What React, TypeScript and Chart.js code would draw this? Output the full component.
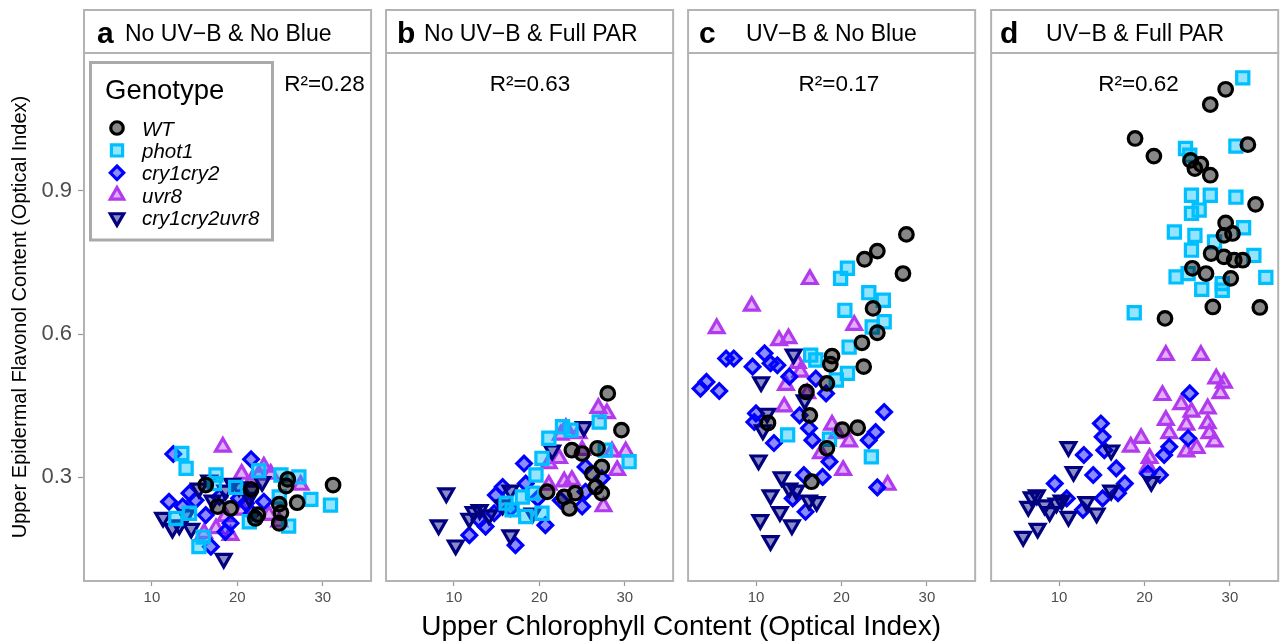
import React, { useEffect, useRef } from 'react';
import { Chart, registerables, PointElement } from 'chart.js';

Chart.register(...registerables);

const FONT = '"Liberation Sans", Arial, Helvetica, sans-serif';

// ---------- data ----------
const genotypes = ['WT', 'phot1', 'cry1cry2', 'uvr8', 'cry1cry2uvr8'];
const panelLetters = ['a', 'b', 'c', 'd'];
const panelTitles = ['No UV−B & No Blue', 'No UV−B & Full PAR', 'UV−B & No Blue', 'UV−B & Full PAR'];
const rSquared = ['0.28', '0.63', '0.17', '0.62'];
const rSquaredX = [30.2, 18.9, 19.7, 19.3];
const rSquaredY = 1.11;
const xTicks = [10, 20, 30];
const yTicks = [0.3, 0.6, 0.9];
const xTitle = 'Upper Chlorophyll Content (Optical Index)';
const yTitle = 'Upper Epidermal Flavonol Content (Optical Index)';

const a_WT = [[31.2,0.284],[25.9,0.296],[25.7,0.282],[27.0,0.247],[24.9,0.244],[25.1,0.226],[22.1,0.214],[21.6,0.275],[17.7,0.239],[19.2,0.235],[16.3,0.284],[24.9,0.204],[22.4,0.222]];
const a_phot1 = [[13.5,0.350],[14.0,0.319],[17.5,0.305],[22.5,0.314],[25.1,0.305],[27.2,0.301],[28.6,0.254],[30.9,0.242],[26.0,0.198],[15.5,0.155],[12.8,0.214],[19.8,0.279],[21.4,0.207],[24.9,0.259],[14.4,0.225],[17.3,0.287],[16.0,0.175]];
const a_cry1cry2 = [[12.5,0.349],[21.6,0.338],[12.0,0.249],[14.4,0.267],[16.9,0.155],[18.6,0.186],[16.3,0.221],[21.7,0.225],[23.1,0.249],[13.6,0.239],[20.2,0.256],[15.1,0.252],[19.2,0.204],[17.9,0.259],[21.0,0.246]];
const a_uvr8 = [[18.3,0.364],[20.5,0.307],[23.1,0.322],[23.9,0.307],[27.4,0.284],[24.9,0.207],[19.2,0.179],[16.1,0.183],[22.5,0.305],[18.6,0.218],[17.5,0.193],[23.7,0.221],[21.7,0.294],[20.6,0.232]];
const a_cry1cry2uvr8 = [[11.3,0.216],[12.4,0.193],[14.6,0.193],[15.5,0.277],[18.4,0.130],[18.6,0.273],[19.4,0.287],[22.9,0.291],[21.4,0.258],[14.0,0.221],[13.2,0.200],[17.1,0.252],[20.2,0.280],[16.7,0.294],[21.7,0.273]];

const b_WT = [[28.0,0.476],[29.6,0.399],[26.8,0.361],[27.3,0.322],[27.3,0.267],[23.5,0.235],[23.8,0.357],[25.0,0.350],[20.9,0.270],[24.2,0.267],[26.2,0.308],[22.9,0.259],[26.6,0.280]];
const b_phot1 = [[27.0,0.416],[21.1,0.382],[20.3,0.340],[30.5,0.333],[19.6,0.305],[18.0,0.259],[18.4,0.218],[20.3,0.225],[16.1,0.246],[22.7,0.406],[27.7,0.357],[19.2,0.267],[16.8,0.232],[23.7,0.399]];
const b_cry1cry2 = [[18.2,0.329],[20.7,0.200],[25.4,0.322],[27.3,0.298],[25.4,0.270],[25.0,0.239],[22.5,0.252],[18.4,0.287],[15.7,0.280],[14.9,0.263],[16.6,0.235],[14.7,0.225],[13.0,0.211],[11.8,0.179],[17.2,0.158],[19.8,0.256],[13.7,0.197]];
const b_uvr8 = [[26.9,0.445],[27.9,0.434],[23.1,0.403],[22.5,0.389],[28.5,0.354],[30.1,0.354],[29.1,0.315],[27.5,0.239],[21.1,0.329],[22.3,0.340],[22.9,0.291],[21.1,0.284],[25.0,0.357],[23.8,0.294],[24.6,0.392]];
const b_cry1cry2uvr8 = [[9.1,0.267],[8.2,0.200],[10.2,0.158],[25.2,0.406],[21.5,0.357],[13.0,0.232],[11.8,0.214],[16.6,0.179],[16.6,0.273],[14.1,0.221],[15.7,0.242],[19.2,0.225],[12.3,0.228]];

const c_WT = [[27.6,0.809],[24.2,0.774],[22.7,0.757],[27.2,0.727],[23.7,0.654],[24.2,0.603],[22.4,0.582],[22.6,0.532],[18.9,0.554],[18.7,0.537],[18.3,0.497],[15.9,0.479],[16.3,0.430],[11.4,0.414],[20.1,0.400],[21.9,0.404],[18.3,0.361],[16.5,0.291]];
const c_phot1 = [[20.7,0.738],[19.9,0.717],[23.2,0.687],[24.9,0.671],[20.4,0.650],[25.0,0.626],[23.6,0.615],[20.9,0.573],[20.7,0.518],[19.4,0.504],[16.4,0.556],[17.0,0.546],[13.7,0.389],[23.5,0.343],[18.6,0.380]];
const c_cry1cry2 = [[3.5,0.486],[4.2,0.500],[5.7,0.481],[6.5,0.549],[7.4,0.549],[9.6,0.532],[11.0,0.560],[11.7,0.539],[12.5,0.535],[13.9,0.511],[17.0,0.507],[18.2,0.476],[10.0,0.434],[9.8,0.416],[12.1,0.372],[15.1,0.430],[16.2,0.403],[16.6,0.378],[25.0,0.437],[24.0,0.395],[23.2,0.378],[18.6,0.333],[15.6,0.305],[17.8,0.301],[24.2,0.279],[14.3,0.256],[15.8,0.228]];
const c_uvr8 = [[16.3,0.715],[9.5,0.659],[5.4,0.612],[12.7,0.587],[13.8,0.591],[21.5,0.619],[15.2,0.521],[13.5,0.493],[13.3,0.448],[18.9,0.410],[20.9,0.375],[17.6,0.350],[20.2,0.315],[25.4,0.284],[19.5,0.392],[16.0,0.476],[14.9,0.539]];
const c_cry1cry2uvr8 = [[14.4,0.558],[10.6,0.500],[15.7,0.462],[11.3,0.434],[10.8,0.399],[10.3,0.336],[13.0,0.301],[14.7,0.273],[11.7,0.263],[12.8,0.228],[10.5,0.211],[17.1,0.249],[16.2,0.252],[14.2,0.200],[11.7,0.167],[13.9,0.277]];

const d_WT = [[29.5,1.113],[27.7,1.081],[18.9,1.010],[21.1,0.973],[32.1,0.997],[25.4,0.964],[26.6,0.956],[25.9,0.947],[27.7,0.933],[33.0,0.872],[29.5,0.833],[29.3,0.807],[30.3,0.811],[27.8,0.769],[29.3,0.762],[30.5,0.755],[31.5,0.755],[25.6,0.738],[27.2,0.727],[30.1,0.717],[28.0,0.657],[33.5,0.656],[22.4,0.633]];
const d_phot1 = [[31.5,1.137],[30.7,0.994],[24.8,0.989],[25.3,0.975],[25.5,0.891],[27.7,0.891],[30.7,0.887],[25.5,0.853],[26.4,0.860],[23.5,0.814],[25.9,0.807],[31.6,0.823],[28.2,0.793],[25.5,0.776],[32.8,0.765],[23.7,0.720],[25.1,0.727],[34.2,0.719],[26.7,0.694],[29.1,0.706],[29.1,0.692],[18.8,0.645]];
const d_cry1cry2 = [[25.3,0.476],[25.1,0.382],[14.9,0.413],[15.1,0.385],[15.3,0.357],[12.9,0.347],[22.3,0.347],[14.0,0.305],[16.7,0.319],[9.5,0.287],[17.7,0.287],[16.9,0.267],[15.1,0.256],[10.9,0.256],[20.4,0.308],[21.8,0.305],[22.9,0.364],[12.8,0.232]];
const d_uvr8 = [[22.5,0.556],[26.6,0.556],[28.4,0.507],[29.3,0.498],[28.9,0.476],[22.1,0.472],[24.3,0.453],[25.5,0.437],[27.4,0.444],[22.5,0.420],[24.9,0.410],[27.4,0.413],[22.9,0.392],[27.6,0.392],[19.6,0.382],[18.4,0.364],[28.2,0.375],[26.1,0.361],[24.9,0.354],[20.6,0.340],[20.4,0.322]];
const d_cry1cry2uvr8 = [[11.1,0.364],[11.7,0.312],[16.1,0.357],[7.4,0.263],[6.4,0.239],[8.3,0.242],[9.7,0.246],[7.5,0.193],[5.8,0.176],[11.1,0.218],[13.2,0.249],[14.4,0.225],[16.1,0.273],[20.8,0.291],[10.3,0.252],[6.8,0.259],[8.9,0.228]];

const panelData = [
  [a_WT, a_phot1, a_cry1cry2, a_uvr8, a_cry1cry2uvr8],
  [b_WT, b_phot1, b_cry1cry2, b_uvr8, b_cry1cry2uvr8],
  [c_WT, c_phot1, c_cry1cry2, c_uvr8, c_cry1cry2uvr8],
  [d_WT, d_phot1, d_cry1cry2, d_uvr8, d_cry1cry2uvr8],
];

// ---------- styles ----------
const genoStyle: Record<string, any> = {
  WT: { pointStyle: 'circle', rotation: 0, radius: 6.8, border: '#000000', fill: 'rgba(0,0,0,0.47)' },
  phot1: { pointStyle: 'rect', rotation: 0, radius: 8.6, border: '#00BFFF', fill: 'rgba(0,191,255,0.42)' },
  cry1cry2: { pointStyle: 'rectRot', rotation: 0, radius: 7.3, border: '#0000FF', fill: 'rgba(0,0,255,0.45)' },
  uvr8: { pointStyle: 'triangle', rotation: 0, radius: 8.4, border: '#B23AEE', fill: 'rgba(178,58,238,0.4)' },
  cry1cry2uvr8: { pointStyle: 'triangle', rotation: 180, radius: 8.4, border: '#000080', fill: 'rgba(0,0,128,0.45)' },
};
const BORDER_W = 3.2;
const drawOrder = [0, 1, 4, 2, 3];
const panelIds = ['xa', 'xb', 'xc', 'xd'];
const letterOffset = [13, 11, 11, 9];
const titleOffset = [41, 38, 58, 55];
const FRAME = '#b3b3b3';

const panelPlugin = {
  id: 'facetDecor',
  afterDraw(chart: any) {
    const ctx = chart.ctx;
    const { top, bottom } = chart.chartArea;
    const yS = chart.scales.y;
    ctx.save();
    panelIds.forEach((id, i) => {
      const s = chart.scales[id];
      const L = s.left, R = s.right;
      ctx.strokeStyle = FRAME;
      ctx.lineWidth = 2;
      ctx.strokeRect(L, 10, R - L, top - 10);
      ctx.strokeRect(L, top, R - L, bottom - top);
      ctx.fillStyle = '#000';
      ctx.textAlign = 'left';
      ctx.textBaseline = 'alphabetic';
      ctx.font = `bold 30px ${FONT}`;
      ctx.fillText(panelLetters[i], L + letterOffset[i], 43);
      ctx.font = `23px ${FONT}`;
      ctx.fillText(panelTitles[i], L + titleOffset[i], 40.5);
      ctx.textAlign = 'center';
      ctx.font = `22.5px ${FONT}`;
      ctx.fillText('R²=' + rSquared[i], s.getPixelForValue(rSquaredX[i]), yS.getPixelForValue(rSquaredY));
    });
    // legend (inside panel a)
    ctx.strokeStyle = '#aaaaaa';
    ctx.lineWidth = 3;
    ctx.strokeRect(90.5, 62.5, 182, 177.5);
    ctx.fillStyle = '#000';
    ctx.textAlign = 'left';
    ctx.font = `27.5px ${FONT}`;
    ctx.fillText('Genotype', 105, 99);
    genotypes.forEach((g, k) => {
      const st = genoStyle[g];
      const cy = 128 + k * 22.4;
      const pe: any = new PointElement({} as any);
      pe.x = 117;
      pe.y = cy;
      pe.options = {
        pointStyle: st.pointStyle, rotation: st.rotation, radius: st.radius * 0.92,
        borderWidth: BORDER_W, borderColor: st.border, backgroundColor: st.fill,
      };
      pe.draw(ctx);
      ctx.fillStyle = '#000';
      ctx.font = `italic 20.5px ${FONT}`;
      ctx.fillText(g, 142, cy + 7.5);
    });
    ctx.restore();
  },
};

function panelAxis(stackWeight: number) {
  return {
    type: 'linear',
    position: 'bottom',
    min: 2.05,
    max: 35.65,
    stack: 'panels',
    stackWeight,
    afterFit: (s: any) => { s.height = 33; },
    afterBuildTicks: (s: any) => { s.ticks = xTicks.map((v) => ({ value: v })); },
    ticks: {
      autoSkip: false,
      maxRotation: 0,
      color: '#4d4d4d',
      padding: 3,
      font: { family: FONT, size: 15 },
      callback: (v: any) => String(v),
    },
    grid: { display: true, drawOnChartArea: false, drawTicks: true, tickLength: 5, tickColor: '#999999', tickWidth: 1.2 },
    border: { display: false },
  };
}

function spacerAxis(stackWeight: number) {
  return { type: 'linear', position: 'bottom', display: false, min: 0, max: 1, stack: 'panels', stackWeight };
}

export default function App() {
  const ref = useRef<HTMLCanvasElement | null>(null);
  useEffect(() => {
    if (!ref.current) return;
    const datasets: any[] = [];
    panelData.forEach((series, p) => {
      drawOrder.forEach((gi) => {
        const g = genotypes[gi];
        const st = genoStyle[g];
        datasets.push({
          label: `${panelLetters[p]} ${g}`,
          data: series[gi].map(([x, y]) => ({ x, y })),
          xAxisID: panelIds[p],
          yAxisID: 'y',
          showLine: false,
          pointStyle: st.pointStyle,
          pointRotation: st.rotation,
          pointRadius: st.radius,
          pointBorderWidth: BORDER_W,
          borderColor: st.border,
          backgroundColor: st.fill,
          pointBorderColor: st.border,
          pointBackgroundColor: st.fill,
          clip: false,
        });
      });
    });
    const chart = new Chart(ref.current, {
      type: 'scatter',
      data: { datasets },
      options: {
        animation: false,
        responsive: false,
        devicePixelRatio: 1,
        events: [],
        layout: { padding: { left: 0, top: 53, right: 8, bottom: 0 } },
        plugins: { legend: { display: false }, tooltip: { enabled: false } },
        scales: {
          y: {
            type: 'linear',
            position: 'left',
            min: 0.083,
            max: 1.189,
            afterFit: (s: any) => { s.width = 84; },
            afterBuildTicks: (s: any) => { s.ticks = yTicks.map((v) => ({ value: v })); },
            ticks: {
              color: '#4d4d4d',
              padding: 6,
              font: { family: FONT, size: 22 },
              callback: (v: any) => Number(v).toFixed(1),
            },
            grid: { display: true, drawOnChartArea: false, drawTicks: true, tickLength: 6, tickColor: '#999999', tickWidth: 1.2 },
            border: { display: false },
            title: {
              display: true,
              text: yTitle,
              color: '#000',
              font: { family: FONT, size: 20 },
              padding: { top: 8, bottom: 0 },
            },
          },
          xa: panelAxis(288),
          xg1: spacerAxis(15),
          xb: panelAxis(288),
          xg2: spacerAxis(15),
          xc: panelAxis(288),
          xg3: spacerAxis(16),
          xd: panelAxis(288),
          x: {
            type: 'linear',
            position: 'bottom',
            weight: 10,
            min: 0,
            max: 1,
            afterFit: (s: any) => { s.height = 30; },
            ticks: { display: false },
            grid: { display: false },
            border: { display: false },
            title: {
              display: true,
              text: xTitle,
              color: '#000',
              font: { family: FONT, size: 28 },
              padding: { top: 0, bottom: 0 },
            },
          },
        },
      } as any,
      plugins: [panelPlugin],
    });
    return () => chart.destroy();
  }, []);
  return (
    <div style={{ position: 'absolute', left: 0, top: 0, width: 1280, height: 644, overflow: 'hidden', background: '#ffffff' }}>
      <canvas ref={ref} width={1290} height={644} style={{ display: 'block' }} />
    </div>
  );
}
